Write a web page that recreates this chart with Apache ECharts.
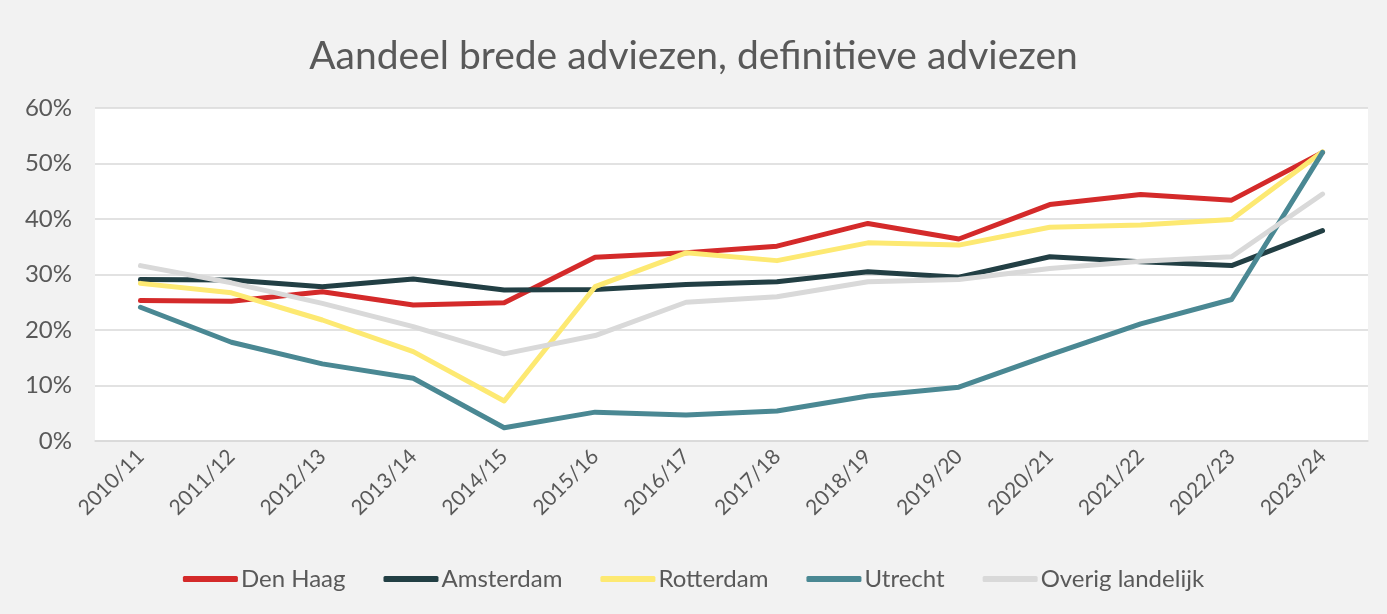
<!DOCTYPE html>
<html>
<head>
<meta charset="utf-8">
<script src="https://cdn.jsdelivr.net/npm/echarts@6/dist/echarts.min.js"></script>
<style>
  html, body { margin: 0; padding: 0; background: #f2f2f2; }
  #chart { width: 1387px; height: 614px; }
</style>
</head>
<body>
<div id="chart"></div>
<script>
var years = ["2010/11", "2011/12", "2012/13", "2013/14", "2014/15", "2015/16", "2016/17",
  "2017/18", "2018/19", "2019/20", "2020/21", "2021/22", "2022/23", "2023/24"];

var denHaag    = [25.3, 25.2, 26.9, 24.5, 24.9, 33.1, 33.9, 35.1, 39.2, 36.4, 42.6, 44.4, 43.4, 52.0];
var amsterdam  = [29.1, 29.0, 27.8, 29.2, 27.2, 27.3, 28.2, 28.7, 30.5, 29.5, 33.2, 32.3, 31.6, 37.9];
var rotterdam  = [28.4, 26.7, 21.8, 16.1, 7.2, 27.8, 33.9, 32.5, 35.7, 35.3, 38.5, 38.9, 39.9, 52.1];
var utrecht    = [24.1, 17.8, 13.9, 11.3, 2.4, 5.2, 4.7, 5.4, 8.1, 9.7, 15.5, 21.1, 25.5, 52.0];
var overig     = [31.6, 28.5, 24.8, 20.6, 15.7, 19.0, 25.0, 26.0, 28.7, 29.1, 31.1, 32.4, 33.2, 44.5];

var names  = ["Den Haag", "Amsterdam", "Rotterdam", "Utrecht", "Overig landelijk"];
var colors = ["#d42a2a", "#223f44", "#fde972", "#4a8893", "#d9d9d9"];

var font = "Lato, 'Open Sans', sans-serif";
var textColor = "#595959";

function line(name, data, color) {
  return {
    name: name,
    type: "line",
    data: data,
    symbol: "none",
    lineStyle: { width: 5, color: color, cap: "round", join: "round" },
    itemStyle: { color: color }
  };
}

var myChart = echarts.init(document.getElementById("chart"));
var option = {
  backgroundColor: "#f2f2f2",
  animation: false,
  color: colors,
  title: {
    text: "Aandeel brede adviezen, definitieve adviezen",
    left: "center",
    top: 32,
    textStyle: { fontFamily: font, fontSize: 39, fontWeight: "normal", color: textColor }
  },
  grid: {
    left: 95,
    right: 19,
    top: 108,
    bottom: 173,
    show: true,
    backgroundColor: "#ffffff",
    borderWidth: 0
  },
  legend: {
    bottom: 18,
    left: "center",
    itemWidth: 55,
    itemHeight: 6,
    itemGap: 38,
    icon: "roundRect",
    textStyle: { fontFamily: font, fontSize: 24, color: textColor, padding: [0, 0, 0, -2] },
    data: names
  },
  xAxis: {
    type: "category",
    data: years,
    boundaryGap: true,
    axisLine: { show: true, lineStyle: { color: "#d9d9d9", width: 1.5 } },
    axisTick: { show: false },
    axisLabel: {
      rotate: 45,
      interval: 0,
      margin: 12,
      fontFamily: font,
      fontSize: 21,
      color: textColor
    }
  },
  yAxis: {
    type: "value",
    min: 0,
    max: 60,
    interval: 10,
    axisLine: { show: false },
    axisTick: { show: false },
    splitLine: { lineStyle: { color: "#d9d9d9", width: 1.5 } },
    axisLabel: {
      formatter: "{value}%",
      margin: 23,
      fontFamily: font,
      fontSize: 24,
      color: textColor
    }
  },
  series: [
    line(names[0], denHaag, colors[0]),
    line(names[1], amsterdam, colors[1]),
    line(names[2], rotterdam, colors[2]),
    line(names[3], utrecht, colors[3]),
    line(names[4], overig, colors[4])
  ]
};
myChart.setOption(option);
</script>
</body>
</html>
